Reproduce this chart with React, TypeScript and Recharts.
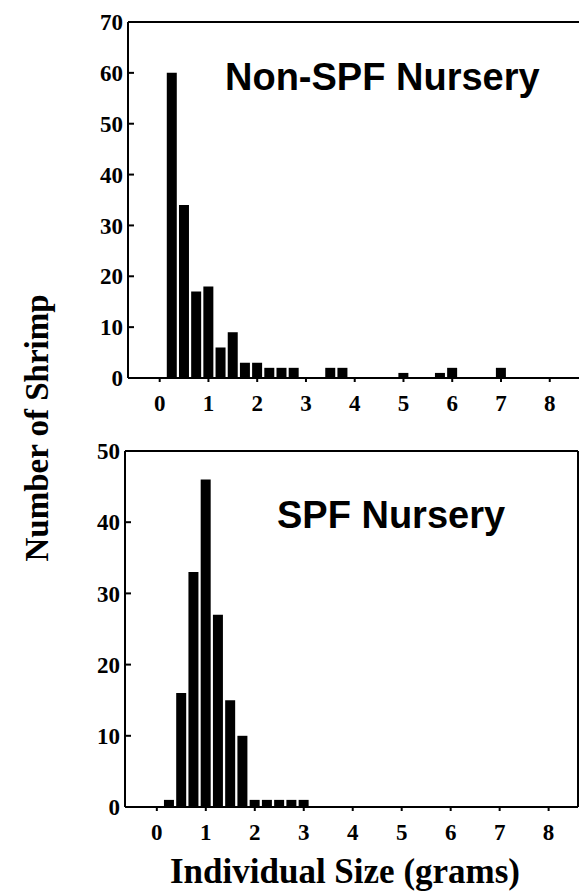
import React from 'react';
import { BarChart, Bar, XAxis, YAxis } from 'recharts';

// bin centres (grams) and shrimp counts
const nonSpfSizes = [0.25, 0.5, 0.75, 1.0, 1.25, 1.5, 1.75, 2.0, 2.25, 2.5, 2.75, 3.5, 3.75, 5.0, 5.75, 6.0, 7.0];
const nonSpfCounts = [60, 34, 17, 18, 6, 9, 3, 3, 2, 2, 2, 2, 2, 1, 1, 2, 2];

const spfSizes = [0.25, 0.5, 0.75, 1.0, 1.25, 1.5, 1.75, 2.0, 2.25, 2.5, 2.75, 3.0];
const spfCounts = [1, 16, 33, 46, 27, 15, 10, 1, 1, 1, 1, 1];

const sizeTicks = [0, 1, 2, 3, 4, 5, 6, 7, 8];
const nonSpfCountTicks = [0, 10, 20, 30, 40, 50, 60, 70];
const spfCountTicks = [0, 10, 20, 30, 40, 50];

const serif = '"Liberation Serif", "Times New Roman", serif';
const sans = '"Liberation Sans", Arial, sans-serif';
const tickFont = { fill: '#000', fontFamily: serif, fontWeight: 700, fontSize: 23 };

interface PanelProps {
  sizes: number[];
  counts: number[];
  yTicks: number[];
  yMax: number;
  top: number;
  height: number;
  plotTop: number;
  plotBottom: number;
  plotLeft: number;
  plotRight: number;
  rightEdge: boolean;
}

const Panel: React.FC<PanelProps> = ({ sizes, counts, yTicks, yMax, top, height, plotTop, plotBottom, plotLeft, plotRight, rightEdge }) => {
  const data = sizes.map((s, i) => ({ size: s, count: counts[i] }));
  const yAxisWidth = 60;
  const xAxisHeight = 40;
  return (
    <div style={{ position: 'absolute', left: 0, top, width: 580, height }}>
      <BarChart
        width={580}
        height={height}
        data={data}
        margin={{
          top: plotTop - 1,
          left: plotLeft - yAxisWidth,
          right: 580 - plotRight - 1,
          bottom: height - plotBottom - xAxisHeight,
        }}
      >
        <XAxis
          xAxisId="x"
          dataKey="size"
          type="number"
          domain={[-0.65, 8.6]}
          ticks={sizeTicks}
          allowDataOverflow
          height={xAxisHeight}
          tickSize={4}
          tickMargin={13}
          stroke="#000"
          strokeWidth={2}
          tick={tickFont}
        />
        <XAxis xAxisId="frame" orientation="top" type="number" domain={[0, 1]} tick={false} tickLine={false} height={1} stroke="#000" strokeWidth={2} />
        <YAxis
          yAxisId="y"
          type="number"
          domain={[0, yMax]}
          ticks={yTicks}
          allowDataOverflow
          width={yAxisWidth}
          tickSize={-6}
          tickMargin={11}
          stroke="#000"
          strokeWidth={2}
          tick={tickFont}
        />
        <YAxis yAxisId="frame" orientation="right" type="number" domain={[0, 1]} tick={false} tickLine={false} axisLine={rightEdge} width={1} stroke="#000" strokeWidth={2} />
        <Bar xAxisId="x" yAxisId="y" dataKey="count" fill="#000" barSize={10} isAnimationActive={false} />
      </BarChart>
    </div>
  );
};

export default function App() {
  return (
    <div style={{ position: 'absolute', left: 0, top: 0, width: 580, height: 895, background: '#fff' }}>
      <Panel sizes={nonSpfSizes} counts={nonSpfCounts} yTicks={nonSpfCountTicks} yMax={70}
        top={0} height={430} plotTop={22} plotBottom={378} plotLeft={128} plotRight={579} rightEdge={false} />
      <Panel sizes={spfSizes} counts={spfCounts} yTicks={spfCountTicks} yMax={50}
        top={430} height={420} plotTop={21} plotBottom={377} plotLeft={125} plotRight={578} rightEdge={true} />
      <svg width={580} height={895} style={{ position: 'absolute', left: 0, top: 0, pointerEvents: 'none' }}>
        <text x={225} y={90} fontFamily={sans} fontWeight={700} fontSize={38} fill="#000">Non-SPF Nursery</text>
        <text x={277} y={528} fontFamily={sans} fontWeight={700} fontSize={38} fill="#000">SPF Nursery</text>
        <text x={48} y={428} transform="rotate(-90 48 428)" textAnchor="middle" fontFamily={serif} fontWeight={700} fontSize={33} fill="#000">Number of Shrimp</text>
        <text x={345} y={883} textAnchor="middle" fontFamily={serif} fontWeight={700} fontSize={35} fill="#000">Individual Size (grams)</text>
      </svg>
    </div>
  );
}
